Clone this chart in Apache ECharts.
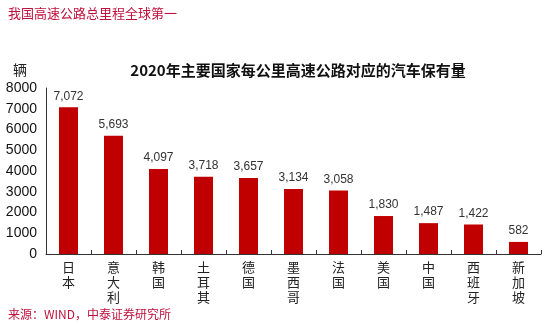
<!DOCTYPE html>
<html><head><meta charset="utf-8">
<script src="https://cdn.jsdelivr.net/npm/echarts@6/dist/echarts.min.js"></script>
<style>html,body{margin:0;padding:0;background:#fff}#c{width:550px;height:324px}</style>
</head><body><div id="c"></div>
<script>
const categories = ['日本','意大利','韩国','土耳其','德国','墨西哥','法国','美国','中国','西班牙','新加坡'];
const values = [7072,5693,4097,3718,3657,3134,3058,1830,1487,1422,582];
const yTicks = [0,1000,2000,3000,4000,5000,6000,7000,8000];
const font = '"Noto Sans CJK SC", "Liberation Sans", sans-serif';
const chart = echarts.init(document.getElementById('c'), null, {renderer:'canvas'});
chart.setOption({
  animation:false,
  textStyle:{fontFamily:font},
  title:[
    {text:'我国高速公路总里程全球第一',left:3,top:2,textStyle:{fontSize:13,fontWeight:'normal',color:'#c0103c',fontFamily:font}},
    {text:'2020年主要国家每公里高速公路对应的汽车保有量',left:293,textAlign:'center',top:58,textStyle:{fontSize:15,fontWeight:'bold',color:'#111',fontFamily:font}},
    {text:'辆',left:8,top:58,textStyle:{fontSize:14,fontWeight:'normal',color:'#222',fontFamily:font}},
    {text:'来源：WIND，中泰证券研究所',left:3,top:303,textStyle:{fontSize:12,fontWeight:'normal',color:'#c0103c',fontFamily:font}}
  ],
  grid:{left:46,right:9,top:88,bottom:70,containLabel:false},
  xAxis:{type:'category',data:categories,
    axisLine:{lineStyle:{color:'#333',width:1}},
    axisTick:{show:true,inside:true,length:4,lineStyle:{color:'#333'}},
    axisLabel:{interval:0,color:'#222',fontSize:13,lineHeight:15,margin:6,fontFamily:font,
      formatter:v=>v.split('').join('\n')}},
  yAxis:{type:'value',min:yTicks[0],max:yTicks[yTicks.length-1],interval:1000,
    splitLine:{show:false},
    axisLine:{show:true,lineStyle:{color:'#333',width:1}},
    axisTick:{show:false},
    axisLabel:{color:'#111',fontSize:14,margin:9,fontFamily:'"Liberation Sans", Arial, sans-serif',formatter:v=>String(v)}},
  series:[{type:'bar',data:values,barWidth:19,itemStyle:{color:'#c00000'},
    label:{show:true,position:'top',distance:5,color:'#333',fontSize:12,fontFamily:'"Liberation Sans", Arial, sans-serif',
      formatter:p=>p.value.toLocaleString('en-US')}}]
});
</script></body></html>
